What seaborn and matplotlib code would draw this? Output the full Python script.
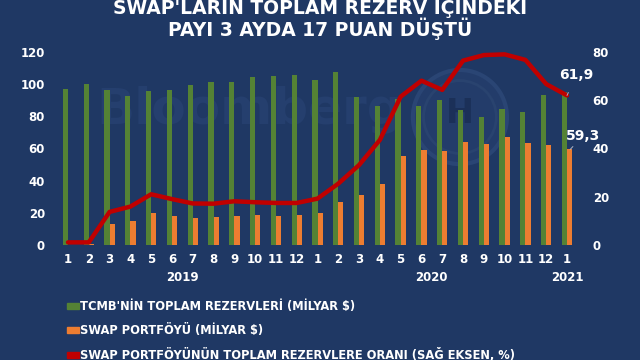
import numpy as np
import pandas as pd
import seaborn as sns
import matplotlib.pyplot as plt
from matplotlib.patches import Patch, Ellipse

# === data ===
months = ["1", "2", "3", "4", "5", "6", "7", "8", "9", "10", "11", "12",
          "1", "2", "3", "4", "5", "6", "7", "8", "9", "10", "11", "12", "1"]
years = ["2019", "2020", "2021"]
reserves = [96.6, 100.1, 96.2, 92.7, 95.6, 96.2, 99.1, 101.4, 101.0, 104.5, 104.9, 105.7,
            102.4, 107.4, 92.1, 86.3, 90.6, 86.3, 90.2, 83.8, 79.7, 84.4, 82.6, 93.3, 95.2]
swap = [0.0, 0.8, 13.2, 14.9, 20.1, 18.2, 17.0, 17.4, 18.2, 18.6, 18.2, 18.6,
        19.9, 26.9, 31.0, 37.9, 55.4, 58.7, 58.1, 63.9, 62.7, 66.8, 63.3, 61.9, 59.3]
ratio = [1.1, 1.1, 13.7, 15.9, 21.0, 19.0, 17.2, 17.1, 18.1, 17.7, 17.4, 17.4,
         19.2, 25.4, 33.1, 43.5, 61.4, 68.0, 64.2, 76.3, 78.6, 78.9, 76.6, 66.6, 61.9]

labels = {
    "res": "TCMB'NİN TOPLAM REZERVLERİ (MİLYAR $)",
    "swap": "SWAP PORTFÖYÜ (MİLYAR $)",
    "ratio": "SWAP PORTFÖYÜNÜN TOPLAM REZERVLERE ORANI (SAĞ EKSEN, %)",
}

bg = "#1f3864"
green = "#548235"
orange = "#ed7d31"
red = "#c00000"

idx = np.arange(len(months))
df = pd.DataFrame({
    "i": np.concatenate([idx, idx]),
    "val": reserves + swap,
    "series": ["res"] * len(idx) + ["swap"] * len(idx),
})

sns.set_style("white")
plt.rcParams["font.family"] = ["DejaVu Sans"]

fig = plt.figure(figsize=(6.4, 3.6), dpi=100, facecolor=bg)
ax = fig.add_axes([0.09, 0.3194, 0.8122, 0.537])
ax.set_facecolor(bg)

# faint watermarks behind the bars
ax.text(0.37, 0.70, "Bloomberg", transform=ax.transAxes, fontsize=36, fontweight="bold",
        color="#253f6e", ha="center", va="center", zorder=0)
ax.add_patch(Ellipse((0.774, 0.662), 0.181, 0.487, transform=ax.transAxes,
                     facecolor="#233c6a", edgecolor="#2a4574", lw=3, zorder=0))
ax.add_patch(Ellipse((0.774, 0.662), 0.14, 0.377, transform=ax.transAxes,
                     facecolor="none", edgecolor="#29436f", lw=2, zorder=0))
ax.text(0.774, 0.68, "H", transform=ax.transAxes, fontsize=24, fontweight="bold",
        color="#1b3058", ha="center", va="center", zorder=0)

sns.barplot(data=df, x="i", y="val", hue="series", palette={"res": green, "swap": orange},
            width=0.5, ax=ax, legend=False, saturation=1, linewidth=0)

ax2 = ax.twinx()
sns.lineplot(x=idx, y=ratio, ax=ax2, color=red, lw=3.2)

ax.set_xlim(-0.5, len(idx) - 0.5)
ax.set_ylim(0, 120)
ax2.set_ylim(0, 80)
ax.set_yticks(range(0, 121, 20))
ax2.set_yticks(range(0, 81, 20))
ax.set_xticks(idx)
ax.set_xticklabels(months)
ax.set_xlabel("")
ax.set_ylabel("")
ax2.set_ylabel("")

for a in (ax, ax2):
    for s in a.spines.values():
        s.set_visible(False)
    a.tick_params(length=0, colors="white", labelsize=8.5)
    for t in a.get_xticklabels() + a.get_yticklabels():
        t.set_fontweight("bold")
ax.tick_params(axis="x", pad=6)
ax.tick_params(axis="y", pad=9)
ax2.tick_params(axis="y", pad=11)

# year labels
for yr, pos in zip(years, [5.5, 17.5, 24]):
    ax.text(pos, -0.17, yr, transform=ax.get_xaxis_transform(), ha="center", va="center",
            color="white", fontsize=8.5, fontweight="bold")

# end labels
ax2.annotate("61,9", xy=(24, ratio[-1]), xytext=(24.45, 70.5), color="white", fontsize=10,
             fontweight="bold", ha="center", va="center",
             arrowprops=dict(arrowstyle="-", color="#aab4c8", lw=0.7, shrinkA=6, shrinkB=0))
ax.annotate("59,3", xy=(24.15, swap[-1]), xytext=(24.75, 67.5), color="white", fontsize=10,
            fontweight="bold", ha="center", va="center",
            arrowprops=dict(arrowstyle="-", color="#aab4c8", lw=0.7, shrinkA=6, shrinkB=0))

handles = [Patch(color=green), Patch(color=orange), Patch(color=red)]
leg = fig.legend(handles, [labels["res"], labels["swap"], labels["ratio"]],
                 loc="upper left", bbox_to_anchor=(0.104, 0.166), frameon=False,
                 fontsize=8.3, handlelength=1.1, handleheight=0.45, handletextpad=0.1,
                 labelspacing=0.95, borderaxespad=0, borderpad=0)
for t in leg.get_texts():
    t.set_color("white")
    t.set_fontweight("bold")

fig.text(0.5, 0.98, "SWAP'LARIN TOPLAM REZERV İÇİNDEKİ", ha="center", va="center",
         color="white", fontsize=13.5, fontweight="bold")
fig.text(0.5, 0.92, "PAYI 3 AYDA 17 PUAN DÜŞTÜ", ha="center", va="center",
         color="white", fontsize=13.5, fontweight="bold")

fig.savefig("out.png", dpi=100, facecolor=bg)
